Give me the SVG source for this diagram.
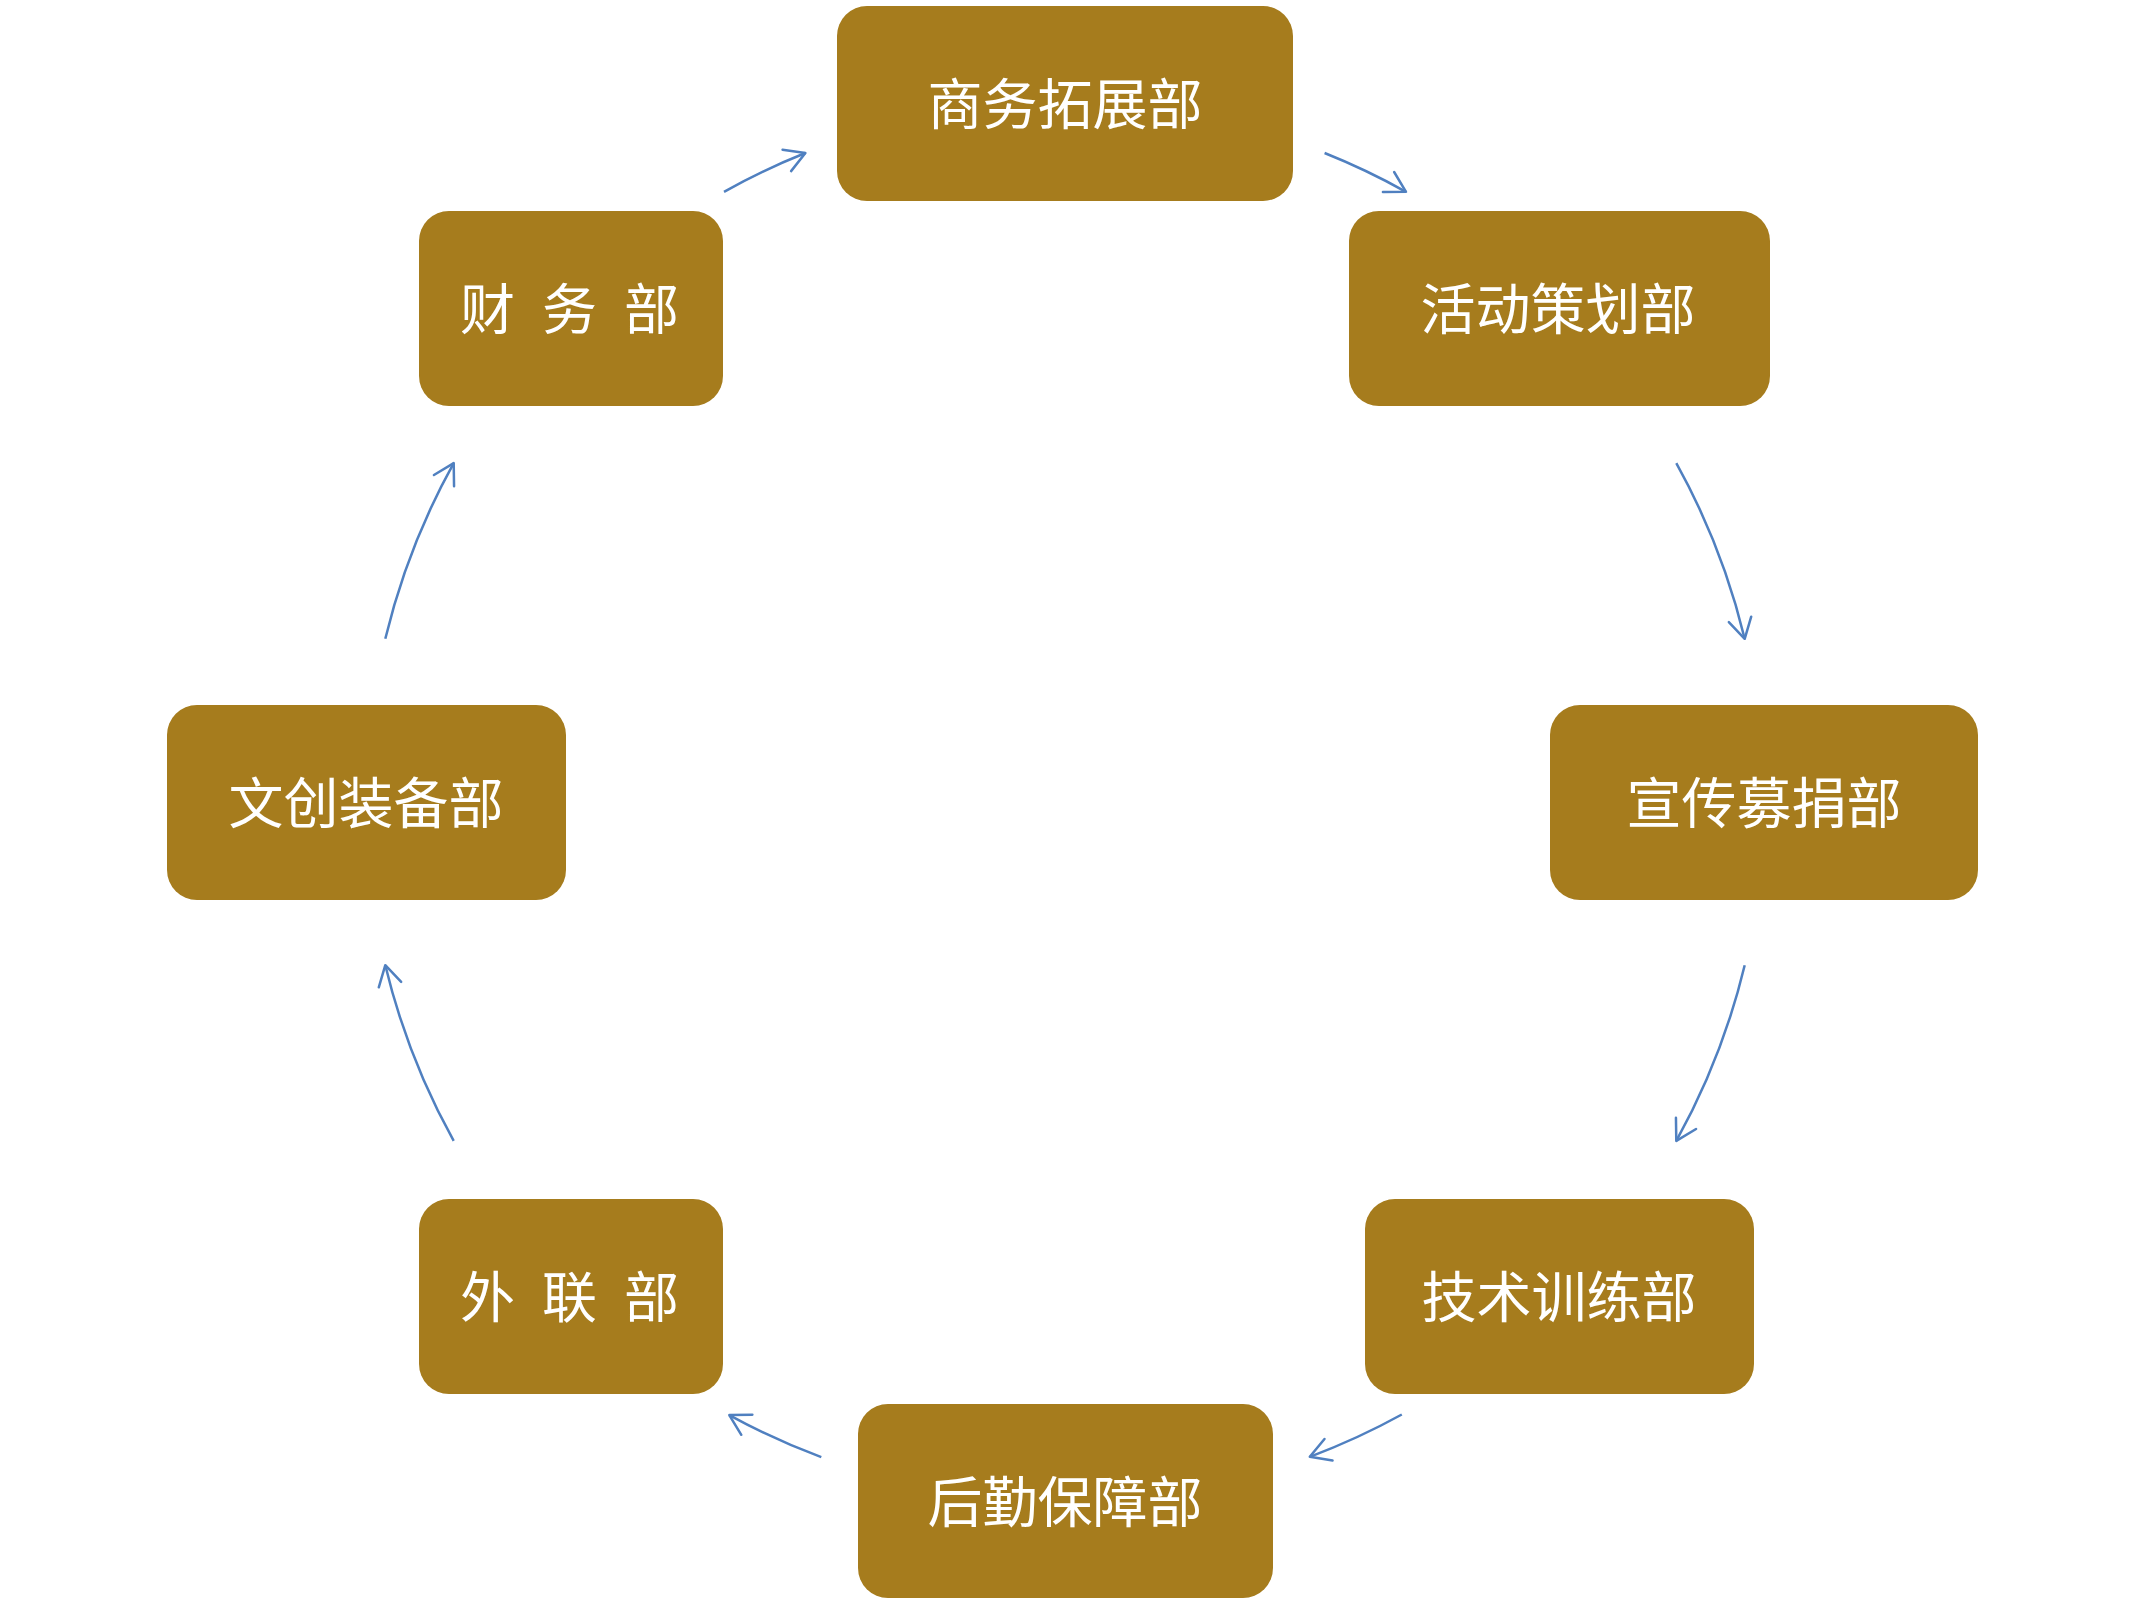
<svg xmlns="http://www.w3.org/2000/svg" width="2145" height="1605" viewBox="0 0 2145 1605">
<defs>
<style>
.node rect{fill:#a67c1d;}
.node text{fill:#ffffff;font-family:"Microsoft YaHei","Noto Sans CJK SC","Noto Sans",sans-serif;font-size:55px;}
.c text{text-anchor:middle;}
.conn path{fill:none;stroke:#5080c0;stroke-width:2.5;marker-end:url(#arr);}
</style>
<marker id="arr" markerUnits="userSpaceOnUse" viewBox="-26 -14 30 28" refX="0" refY="0" markerWidth="30" markerHeight="28" orient="auto">
<path d="M-20,-11.5 L0,0 L-20,11.5" fill="none" stroke="#5080c0" stroke-width="2.5" stroke-linecap="round" stroke-linejoin="round"/>
</marker>
</defs>
<rect width="2145" height="1605" fill="#ffffff"/>
<g id="connectors" class="conn">
<path d="M1324.6,153 A699,699 0 0 1 1406,191.8"/>
<path d="M1676.3,463.1 A699,699 0 0 1 1744.7,638.8"/>
<path d="M1744.7,965.2 A699,699 0 0 1 1676.3,1140.9"/>
<path d="M1401.8,1414.5 A699,699 0 0 1 1309.8,1456.8"/>
<path d="M821.3,1457.2 A699,699 0 0 1 729.3,1415.1"/>
<path d="M453.7,1140.9 A699,699 0 0 1 385.3,965.2"/>
<path d="M385.3,638.8 A699,699 0 0 1 453.7,463.1"/>
<path d="M724,191.8 A699,699 0 0 1 805.4,153"/>
</g>
<g id="n1" class="node c"><rect x="837" y="6" width="456" height="195" rx="30"/><text x="1065" y="124">商务拓展部</text></g>
<g id="n2" class="node c"><rect x="1349" y="211" width="421" height="195" rx="30"/><text x="1558" y="329">活动策划部</text></g>
<g id="n3" class="node c"><rect x="1550" y="705" width="428" height="195" rx="30"/><text x="1764" y="823">宣传募捐部</text></g>
<g id="n4" class="node c"><rect x="1365" y="1199" width="389" height="195" rx="30"/><text x="1559" y="1317">技术训练部</text></g>
<g id="n5" class="node c"><rect x="858" y="1404" width="415" height="194" rx="30"/><text x="1065" y="1522">后勤保障部</text></g>
<g id="n6" class="node"><rect x="419" y="1199" width="304" height="195" rx="30"/><text x="460 515 542 597 624" y="1317" xml:space="preserve">外 联 部</text></g>
<g id="n7" class="node c"><rect x="167" y="705" width="399" height="195" rx="30"/><text x="366" y="823">文创装备部</text></g>
<g id="n8" class="node"><rect x="419" y="211" width="304" height="195" rx="30"/><text x="460 515 542 597 624" y="329" xml:space="preserve">财 务 部</text></g>
</svg>
